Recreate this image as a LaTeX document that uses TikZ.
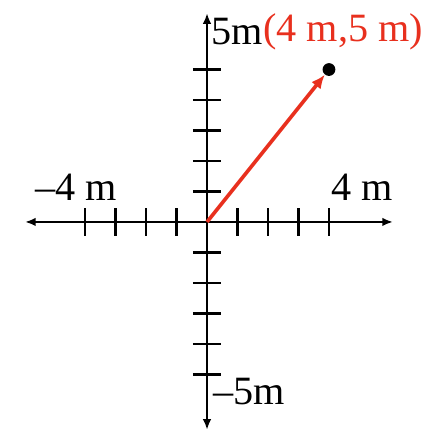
\documentclass[tikz,border=0pt]{standalone}
\usepackage{fontspec}
\setmainfont{Liberation Serif}
\usetikzlibrary{arrows.meta,positioning}
\definecolor{vecred}{RGB}{232,48,30}

\begin{document}
\begin{tikzpicture}[x=1cm,y=1cm]
\tikzset{axis/.style={line width=2.2pt,{Latex[length=10pt,width=8pt]}-{Latex[length=10pt,width=8pt]}},
  tick/.style={line width=2.2pt},
  lbl/.style={font=\fontsize{37.5}{42}\selectfont,inner sep=0pt}}
\useasboundingbox (-6.79,-7.02) rectangle (7.74,7.28);
\coordinate (O) at (0,0);
\coordinate (xl) at (-5.97,0);
\coordinate (xr) at (6.10,0);
\coordinate (yt) at (0,6.85);
\coordinate (yb) at (0,-6.82);
\draw[axis] (xl) -- (xr);
\draw[axis] (yb) -- (yt);
\foreach \i in {-4,-3,-2,-1,1,2,3,4}
  \draw[tick] (\i,-0.46) -- (\i,0.46);
\foreach \i in {-5,-4,-3,-2,-1,1,2,3,4,5}
  \draw[tick] (-0.46,\i) -- (0.46,\i);
\node[fill,circle,inner sep=0pt,minimum size=0.42cm] (pt) at (4,5) {};
\draw[vecred,line width=3.4pt,-{Latex[length=13pt,width=11pt]}] (O) -- (pt);
\node[lbl] (xneg) at (-4.3,1.15) {–4 m};
\node[lbl] (xpos) at (5.08,1.15) {4 m};
\node[lbl,anchor=west] (ytop) at (0.14,6.25) {5m};
\node[lbl,anchor=west,text=vecred,right=0pt of ytop] (ptlbl) {(4 m,5 m)};
\node[lbl,anchor=west] (ybot) at (0.2,-5.57) {–5m};
\end{tikzpicture}
\end{document}
